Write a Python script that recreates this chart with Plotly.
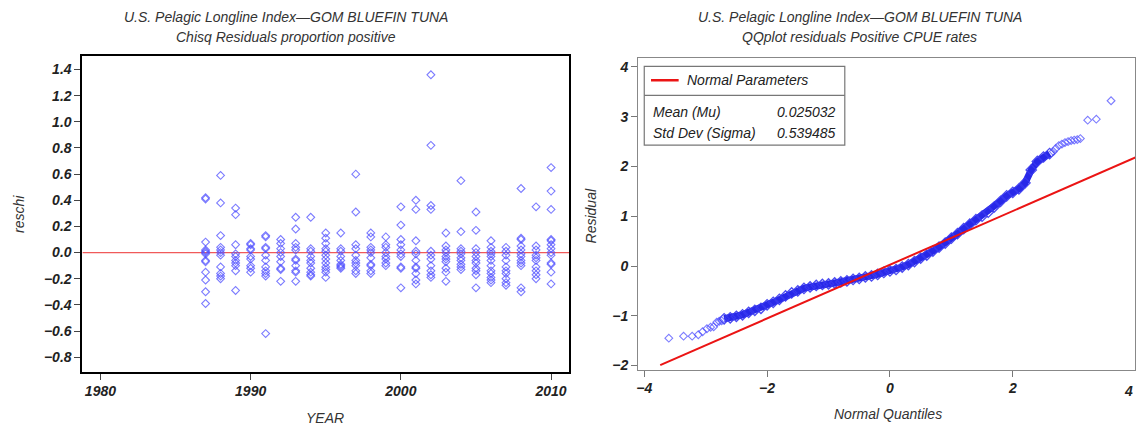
import plotly.graph_objects as go

# ---------------- data: left panel (chi-square residuals by year) ----------------
years = list(range(1987, 2011))
reschi = [
    [0.42, 0.41, 0.08, 0.02, 0.01, 0.00, -0.01, -0.06, -0.07, -0.15, -0.21, -0.30, -0.39],   # 1987
    [0.59, 0.38, 0.13, 0.04, 0.02, 0.00, -0.02, -0.11, -0.16, -0.18, -0.20],                 # 1988
    [0.34, 0.29, 0.06, -0.01, -0.03, -0.06, -0.08, -0.10, -0.14, -0.29],                     # 1989
    [0.07, 0.06, 0.03, 0.02, -0.03, -0.05, -0.10, -0.12, -0.15],                             # 1990
    [0.13, 0.12, 0.04, 0.03, -0.02, -0.06, -0.11, -0.14, -0.16, -0.18, -0.62],               # 1991
    [0.10, 0.07, 0.03, 0.00, -0.03, -0.07, -0.12, -0.13, -0.22],                             # 1992
    [0.27, 0.18, 0.07, 0.04, 0.02, -0.05, -0.06, -0.10, -0.14, -0.15, -0.22],                # 1993
    [0.27, 0.03, 0.01, -0.03, -0.06, -0.08, -0.12, -0.15, -0.17, -0.18],                     # 1994
    [0.15, 0.11, 0.07, 0.03, 0.01, -0.02, -0.05, -0.08, -0.11, -0.13, -0.15, -0.19],         # 1995
    [0.15, 0.03, 0.01, -0.03, -0.06, -0.09, -0.10, -0.11, -0.12],                            # 1996
    [0.60, 0.31, 0.06, 0.03, -0.02, -0.06, -0.08, -0.10, -0.14, -0.16],                      # 1997
    [0.15, 0.12, 0.04, 0.02, 0.00, -0.04, -0.09, -0.10, -0.14, -0.16],                       # 1998
    [0.12, 0.06, 0.04, 0.00, -0.03, -0.05, -0.08, -0.10],                                    # 1999
    [0.35, 0.21, 0.10, 0.06, 0.02, -0.01, -0.03, -0.11, -0.12, -0.27],                       # 2000
    [0.40, 0.33, 0.09, 0.01, -0.01, -0.06, -0.11, -0.12, -0.16, -0.21, -0.24],               # 2001
    [1.36, 0.82, 0.36, 0.33, 0.01, -0.02, -0.05, -0.10, -0.14, -0.17, -0.19],                # 2002
    [0.15, 0.05, 0.02, 0.00, -0.03, -0.05, -0.07, -0.12, -0.15, -0.22],                      # 2003
    [0.55, 0.16, 0.03, 0.01, -0.01, -0.04, -0.06, -0.09, -0.11, -0.13],                      # 2004
    [0.31, 0.17, 0.03, 0.00, -0.03, -0.06, -0.08, -0.12, -0.14, -0.17, -0.27],               # 2005
    [0.09, 0.04, 0.01, -0.01, -0.03, -0.06, -0.10, -0.14, -0.16, -0.19, -0.21, -0.23],       # 2006
    [0.04, 0.01, -0.02, -0.06, -0.11, -0.14, -0.16, -0.20, -0.23, -0.25],                    # 2007
    [0.49, 0.11, 0.10, 0.05, 0.02, -0.01, -0.03, -0.06, -0.08, -0.10, -0.27, -0.30],         # 2008
    [0.35, 0.05, 0.02, -0.02, -0.04, -0.06, -0.11, -0.14, -0.17, -0.20],                     # 2009
    [0.65, 0.47, 0.33, 0.10, 0.09, 0.06, 0.03, 0.00, -0.02, -0.08, -0.09, -0.15, -0.24],     # 2010
]
left_x_ticks = [1980, 1990, 2000, 2010]

# ---------------- data: right panel (QQ plot of residuals) ----------------
qq_band_q = [-2.7, -2.6, -2.5, -2.4, -2.3, -2.2, -2.1, -2.0, -1.9, -1.8, -1.7, -1.6, -1.5, -1.4,
             -1.3, -1.2, -1.1, -1.0, -0.9, -0.8, -0.7, -0.6, -0.5, -0.4, -0.3, -0.2, -0.1, 0.0,
             0.1, 0.2, 0.3, 0.4, 0.5, 0.6, 0.7, 0.8, 0.9, 1.0, 1.1, 1.2, 1.3, 1.4, 1.5, 1.6,
             1.7, 1.8, 1.9, 2.0, 2.1, 2.2, 2.3, 2.4, 2.5, 2.6]
qq_band_r = [-1.06, -1.04, -1.01, -0.98, -0.93, -0.89, -0.85, -0.78, -0.73, -0.67, -0.60, -0.54,
             -0.50, -0.45, -0.42, -0.39, -0.37, -0.36, -0.34, -0.32, -0.30, -0.27, -0.25, -0.22,
             -0.20, -0.17, -0.13, -0.10, -0.07, -0.02, 0.03, 0.09, 0.16, 0.22, 0.30, 0.38, 0.46,
             0.56, 0.65, 0.75, 0.84, 0.93, 1.00, 1.08, 1.19, 1.30, 1.41, 1.48, 1.55, 1.67, 1.93,
             2.10, 2.19, 2.26]
qq_tail_q = [-3.60, -3.36, -3.22, -3.12, -3.05, -2.98, -2.92, -2.87, -2.82, -2.78, -2.74,
             2.66, 2.70, 2.75, 2.80, 2.85, 2.90, 2.95, 3.00, 3.05, 3.10, 3.22, 3.36, 3.60]
qq_tail_r = [-1.45, -1.41, -1.41, -1.38, -1.32, -1.26, -1.23, -1.22, -1.13, -1.11, -1.10,
             2.30, 2.36, 2.42, 2.45, 2.48, 2.50, 2.52, 2.53, 2.54, 2.56, 2.93, 2.95, 3.32]
mu = 0.025032
sigma = 0.539485
normal_line_q = [-3.74, 4.2]
right_x_ticks = [-4, -2, 0, 2]
right_y_ticks = [-2, -1, 0, 1, 2, 3, 4]

# ---------------- figure ----------------
W, H = 1136, 432
FONT = "Liberation Sans"
MARK = "rgba(80,80,255,0.75)"


def px(xp):
    return xp / W


def py(yp):
    return 1 - yp / H


fig = go.Figure()

xs, ys = [], []
for yr, vals in zip(years, reschi):
    for v in vals:
        xs.append(yr)
        ys.append(v)

fig.add_trace(go.Scatter(
    x=[1978.8, 2011.2], y=[0, 0], mode="lines",
    line=dict(color="rgb(240,90,90)", width=1.2), xaxis="x", yaxis="y", hoverinfo="skip"))
fig.add_trace(go.Scatter(
    x=xs, y=ys, mode="markers",
    marker=dict(symbol="diamond-open", size=6, color=MARK, line=dict(width=1.1, color=MARK)),
    xaxis="x", yaxis="y"))

# right panel
fig.add_trace(go.Scatter(
    x=qq_band_q, y=qq_band_r, mode="lines+markers",
    line=dict(color="rgb(40,40,232)", width=7),
    marker=dict(symbol="diamond-open", size=8, color="rgba(55,55,240,0.9)",
                line=dict(width=1.3, color="rgba(55,55,240,0.9)")),
    xaxis="x2", yaxis="y2"))
fig.add_trace(go.Scatter(
    x=qq_tail_q, y=qq_tail_r, mode="markers",
    marker=dict(symbol="diamond-open", size=6, color=MARK, line=dict(width=1.1, color=MARK)),
    xaxis="x2", yaxis="y2"))
fig.add_trace(go.Scatter(
    x=normal_line_q, y=[mu + sigma * q for q in normal_line_q], mode="lines",
    line=dict(color="rgb(235,20,20)", width=2), xaxis="x2", yaxis="y2"))

tickfont = dict(family=FONT, size=14, color="#222", style="italic", weight="bold")

fig.update_layout(
    width=W, height=H, margin=dict(l=0, r=0, t=0, b=0),
    paper_bgcolor="white", plot_bgcolor="white", showlegend=False,
    font=dict(family=FONT, style="italic", color="#333"),
    xaxis=dict(domain=[px(80.6), px(568.6)], range=[1978.8, 2011.2], tickvals=left_x_ticks,
               ticks="outside", ticklen=6, tickcolor="#444", showgrid=False, zeroline=False,
               showline=True, linewidth=2, linecolor="black", mirror=True, tickfont=tickfont,
               anchor="y"),
    yaxis=dict(domain=[py(375), py(57)], range=[-0.91, 1.50], dtick=0.2, tick0=0, tickformat=".1f",
               ticks="outside", ticklen=6, tickcolor="#444", showgrid=False, zeroline=False,
               showline=True, linewidth=2, linecolor="black", mirror=True, tickfont=tickfont,
               anchor="x"),
    xaxis2=dict(domain=[px(637.8), 1.0], range=[-4.10, 3.99], tickvals=right_x_ticks,
                ticks="outside", ticklen=6, tickcolor="#777", showgrid=False, zeroline=False,
                showline=True, linewidth=1.2, linecolor="#888", mirror=True, tickfont=tickfont,
                anchor="y2"),
    yaxis2=dict(domain=[py(373), py(59)], range=[-2.08, 4.17], tickvals=right_y_ticks,
                ticks="outside", ticklen=6, tickcolor="#777", showgrid=False, zeroline=False,
                showline=True, linewidth=1.2, linecolor="#888", mirror=True, tickfont=tickfont,
                anchor="x2"),
)

ann = []
tfont = dict(family=FONT, size=14, color="#333", style="italic")
for cx, lines in [(285, ["U.S. Pelagic Longline Index\u2014GOM BLUEFIN TUNA", "Chisq Residuals proportion positive"]),
                  (860, ["U.S. Pelagic Longline Index\u2014GOM BLUEFIN TUNA", "QQplot residuals Positive CPUE rates"])]:
    for yy, txt in zip([17, 37], lines):
        ann.append(dict(x=px(cx), y=py(yy), xref="paper", yref="paper", text=txt, showarrow=False,
                        xanchor="center", yanchor="middle", font=tfont))

lab = dict(family=FONT, size=14, color="#333", style="italic")
ann += [
    dict(x=px(324), y=py(422), xref="paper", yref="paper", text="YEAR", showarrow=False,
         xanchor="center", yanchor="middle", font=lab),
    dict(x=px(17), y=py(216), xref="paper", yref="paper", text="reschi", showarrow=False,
         textangle=-90, xanchor="center", yanchor="middle", font=lab),
    dict(x=px(888), y=py(418), xref="paper", yref="paper", text="Normal Quantiles", showarrow=False,
         xanchor="center", yanchor="middle", font=lab),
    dict(x=px(591), y=py(218), xref="paper", yref="paper", text="Residual", showarrow=False,
         textangle=-90, xanchor="center", yanchor="middle", font=lab),
    # the "4" tick label sits at the page's right edge
    dict(x=1.0, y=py(395), xref="paper", yref="paper", text="4", showarrow=False,
         xanchor="right", yanchor="middle", font=tickfont),
]

# legend / inset box
leg = dict(family=FONT, size=14, color="#222", style="italic")
ann += [
    dict(x=-3.33, y=3.73, xref="x2", yref="y2", text="Normal Parameters", showarrow=False,
         xanchor="left", yanchor="middle", font=leg),
    dict(x=-3.89, y=3.10, xref="x2", yref="y2", text="Mean (Mu)", showarrow=False,
         xanchor="left", yanchor="middle", font=leg),
    dict(x=-0.85, y=3.10, xref="x2", yref="y2", text=f"{mu:.6f}", showarrow=False,
         xanchor="right", yanchor="middle", font=leg),
    dict(x=-3.89, y=2.67, xref="x2", yref="y2", text="Std Dev (Sigma)", showarrow=False,
         xanchor="left", yanchor="middle", font=leg),
    dict(x=-0.85, y=2.67, xref="x2", yref="y2", text=f"{sigma:.6f}", showarrow=False,
         xanchor="right", yanchor="middle", font=leg),
]
fig.update_layout(annotations=ann)

fig.update_layout(shapes=[
    dict(type="rect", xref="x2", yref="y2", x0=-4.0, x1=-0.735, y0=2.43, y1=4.01,
         line=dict(color="#777", width=1.2), fillcolor="white", layer="above"),
    dict(type="line", xref="x2", yref="y2", x0=-4.0, x1=-0.735, y0=3.43, y1=3.43,
         line=dict(color="#777", width=1.2)),
    dict(type="line", xref="x2", yref="y2", x0=-3.89, x1=-3.44, y0=3.73, y1=3.73,
         line=dict(color="rgb(235,20,20)", width=2.5)),
])

# remove the default 8px page margin so the figure sits at the window's top-left corner
fig.write_html("out.html", config={"displayModeBar": False},
               post_script="document.body.style.margin='0';document.body.style.overflow='hidden';")
